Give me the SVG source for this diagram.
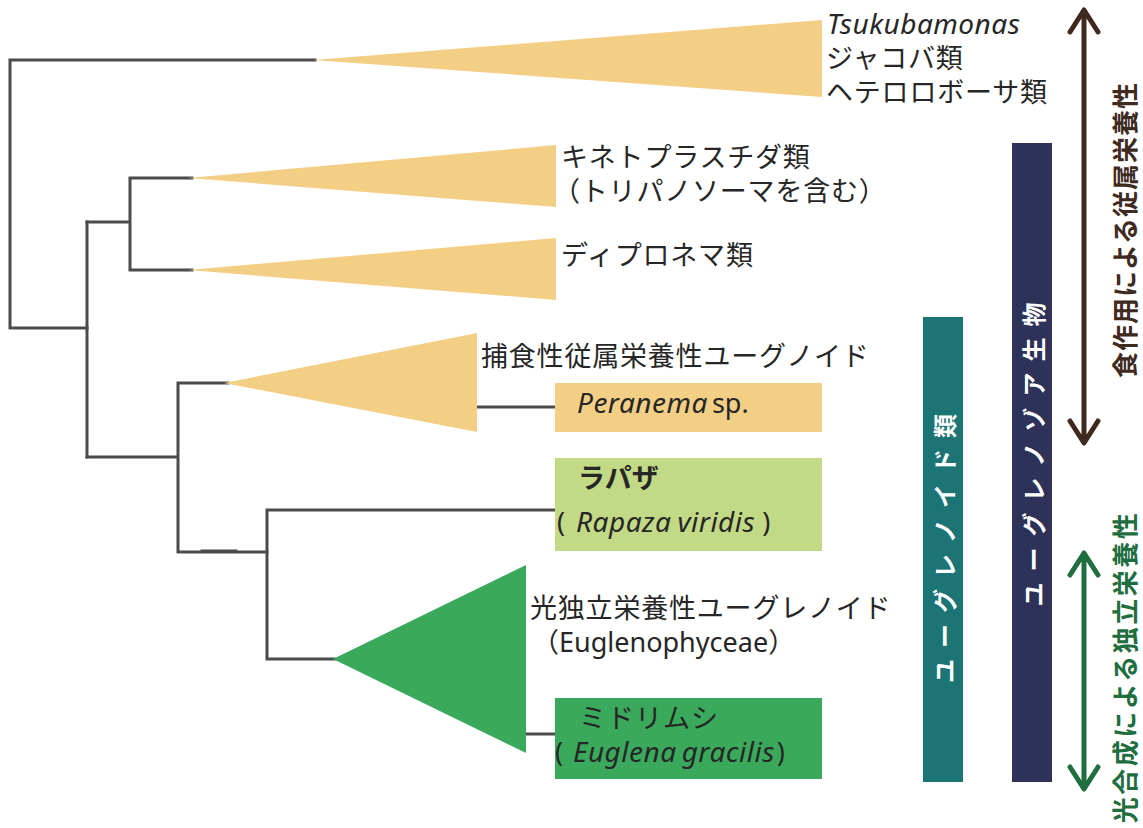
<svg xmlns="http://www.w3.org/2000/svg" width="1143" height="828" viewBox="0 0 1143 828">
  <style>
    .ln { stroke: #4b4b4d; stroke-width: 3; fill: none; stroke-linecap: square; }
    .tan { fill: #f3cf86; }
    .grn { fill: #3aa95c; }
    .lt { font-family: "Noto Sans", "Noto Sans CJK JP", sans-serif; font-size: 27px; fill: #262626; }
    .jp { letter-spacing: 0.8px; }
    .it { font-style: italic; font-size: 28px; letter-spacing: 0.5px; }
    .bar { font-family: "Noto Sans CJK JP", sans-serif; font-size: 24px; font-weight: 700; fill: #ffffff; letter-spacing: 11px; }
    .side { font-family: "Noto Sans CJK JP", sans-serif; font-size: 26px; font-weight: 700; }
    .arr { fill: none; stroke-width: 5; stroke-linecap: round; stroke-linejoin: round; }
  </style>
  <rect width="1143" height="828" fill="#ffffff"/>

  <g id="connectors">
    <path class="ln" d="M315,60 H10 V328 H87"/>
    <path class="ln" d="M87,222 V457"/>
    <path class="ln" d="M87,222 H130 M192,178 H130 V270 H192"/>
    <path class="ln" d="M87,457 H178 M228,383 H178 V552 H267"/>
    <path class="ln" d="M202,551 H236" stroke-width="3.5"/>
    <path class="ln" d="M555,510 H267 V659 H335"/>
    <path class="ln" d="M477,407 H555"/>
    <path class="ln" d="M526,734 H555"/>
  </g>

  <g id="clade-outgroup">
    <polygon class="tan" points="313,60 822,20 822,97"/>
    <text class="lt"><tspan class="it" x="827" y="34">Tsukubamonas</tspan><tspan class="jp" x="826" y="68">ジャコバ類</tspan><tspan class="jp" x="826" y="102">ヘテロロボーサ類</tspan></text>
  </g>

  <g id="clade-kinetoplastids">
    <polygon class="tan" points="188,178 556,145 556,207"/>
    <text class="lt jp"><tspan x="561" y="167">キネトプラスチダ類</tspan><tspan x="553" y="201">（トリパノソーマを含む）</tspan></text>
  </g>

  <g id="clade-diplonemids">
    <polygon class="tan" points="188,270 556,238 556,300"/>
    <text class="lt jp" x="561" y="265">ディプロネマ類</text>
  </g>

  <g id="clade-phagotrophs">
    <polygon class="tan" points="224,383 477,333 477,432"/>
    <text class="lt jp" x="481" y="366">捕食性従属栄養性ユーグノイド</text>
  </g>

  <g id="node-peranema">
    <rect x="555" y="383" width="267" height="49" fill="#f3cf86"/>
    <text class="lt" x="577" y="413"><tspan class="it">Peranema</tspan><tspan dx="4">sp.</tspan></text>
  </g>

  <g id="node-rapaza">
    <rect x="555" y="458" width="267" height="93" fill="#c2d986"/>
    <text class="lt" x="578" y="488" font-weight="700">ラパザ</text>
    <text class="lt" y="532"><tspan x="557">(</tspan><tspan class="it" x="576">Rapaza</tspan><tspan class="it" dx="6">viridis</tspan><tspan dx="7">)</tspan></text>
  </g>

  <g id="clade-euglenophyceae">
    <polygon class="grn" points="333,659 526,565 526,753"/>
    <text class="lt"><tspan class="jp" x="530" y="618">光独立栄養性ユーグレノイド</tspan><tspan x="532" y="652">（Euglenophyceae）</tspan></text>
  </g>

  <g id="node-euglena">
    <rect x="555" y="698" width="267" height="81" fill="#3aa95c"/>
    <text class="lt" x="579" y="728" letter-spacing="1">ミドリムシ</text>
    <text class="lt" y="762"><tspan x="555">(</tspan><tspan class="it" x="573">Euglena</tspan><tspan class="it" dx="5">gracilis</tspan><tspan dx="2">)</tspan></text>
  </g>

  <g id="bar-euglenoids">
    <rect x="923" y="317" width="40" height="465" fill="#1d7475"/>
    <text class="bar" transform="translate(943,543) rotate(-90)" text-anchor="middle" dominant-baseline="central">ユーグレノイド類</text>
  </g>

  <g id="bar-euglenozoa">
    <rect x="1012" y="143" width="40" height="639" fill="#2e3259"/>
    <text class="bar" transform="translate(1032,449) rotate(-90)" text-anchor="middle" dominant-baseline="central">ユーグレノゾア生物</text>
  </g>

  <g id="arrow-phagotrophy">
    <path class="arr" stroke="#3f2a1f" d="M1084,11 V442 M1070,32 L1084,10 L1098,32 M1070,421 L1084,443 L1098,421"/>
    <text class="side" fill="#3f2a1f" letter-spacing="1" transform="translate(1123,230) rotate(-90)" text-anchor="middle" dominant-baseline="central">食作用による従属栄養性</text>
  </g>

  <g id="arrow-photoautotrophy">
    <path class="arr" stroke="#1f6e3f" d="M1084,554 V787 M1070,575 L1084,553 L1098,575 M1070,767 L1084,789 L1098,767"/>
    <text class="side" fill="#1f6e3f" letter-spacing="2.5" transform="translate(1123,667) rotate(-90)" text-anchor="middle" dominant-baseline="central">光合成による独立栄養性</text>
  </g>
</svg>
